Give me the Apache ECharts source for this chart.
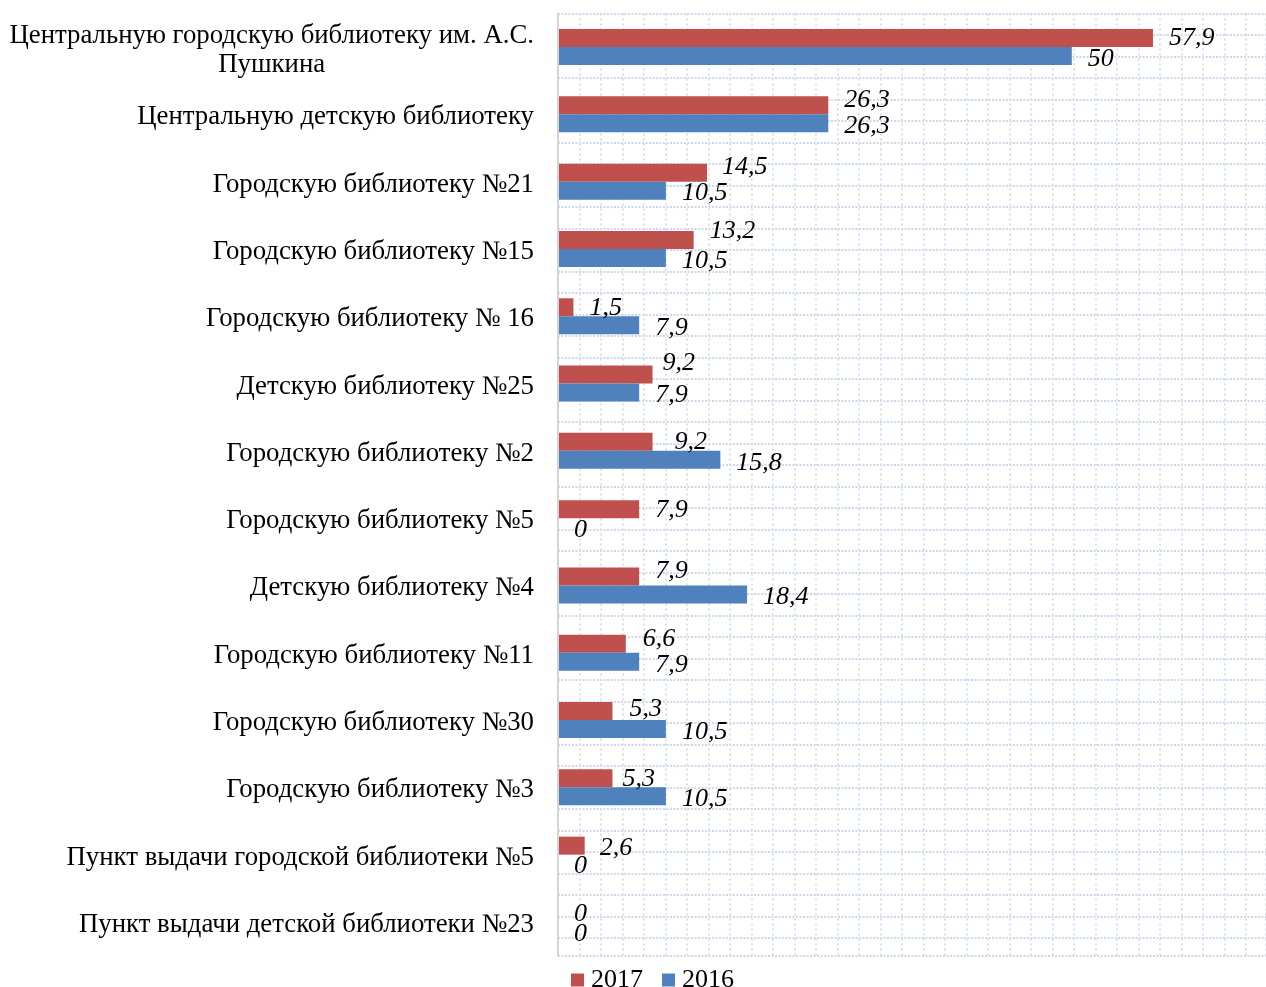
<!DOCTYPE html>
<html>
<head>
<meta charset="utf-8">
<script src="https://cdn.jsdelivr.net/npm/echarts@6/dist/echarts.min.js"></script>
<style>
  html, body { margin: 0; padding: 0; background: #fff; }
  #chart { width: 1266px; height: 987px; }
</style>
</head>
<body>
<div id="chart"></div>
<script>
  // библиотеки (сверху вниз)
  var categories = [
    "Центральную городскую библиотеку им. А.С.\nПушкина",
    "Центральную детскую библиотеку",
    "Городскую библиотеку №21",
    "Городскую библиотеку №15",
    "Городскую библиотеку № 16",
    "Детскую библиотеку №25",
    "Городскую библиотеку №2",
    "Городскую библиотеку №5",
    "Детскую библиотеку №4",
    "Городскую библиотеку №11",
    "Городскую библиотеку №30",
    "Городскую библиотеку №3",
    "Пункт выдачи городской библиотеки №5",
    "Пункт выдачи детской библиотеки №23"
  ];
  var values2017 = [57.9, 26.3, 14.5, 13.2, 1.5, 9.2, 9.2, 7.9, 7.9, 6.6, 5.3, 5.3, 2.6, 0];
  var values2016 = [50, 26.3, 10.5, 10.5, 7.9, 7.9, 15.8, 0, 18.4, 7.9, 10.5, 10.5, 0, 0];
  var seriesNames = ["2017", "2016"];

  // сдвиги подписей 2017, как их передвинули вручную в исходнике
  var shiftX2017 = [0, 0, -1, 0, 0, -6, 6, 0, 0, 1, 1, -6, -1, 0];
  var shiftY2017 = [0, -5, -5, -9, 1, -11, 0, 1, -5, -5, -2, 1, 3, 1];

  var serif = "'Liberation Serif', 'Times New Roman', 'DejaVu Serif', serif";
  var colors = ["#c0504d", "#4f81bd"];

  var chart = echarts.init(document.getElementById("chart"));

  function labelFmt(p) {
    return String(p.value).replace(".", ",");
  }

  var valueLabel = {
    show: true,
    position: "right",
    distance: 16,
    formatter: labelFmt,
    fontFamily: serif,
    fontStyle: "italic",
    fontSize: 26,
    color: "#000"
  };

  var data2017 = values2017.map(function (v, i) {
    return { value: v, label: { offset: [shiftX2017[i], shiftY2017[i]] } };
  });
  var data2016 = values2016.map(function (v) {
    return { value: v, label: { offset: [0, 3] } };
  });

  var option = {
    backgroundColor: "#fff",
    animation: false,
    grid: {
      left: 558,
      right: 0,
      top: 13.4,
      bottom: 31.4,
      containLabel: false
    },
    legend: {
      data: seriesNames,
      left: 566,
      top: 962,
      itemWidth: 13,
      itemHeight: 13,
      itemGap: 19,
      icon: "rect",
      textStyle: { fontFamily: serif, fontSize: 26, color: "#000", padding: [0, 0, 0, 2] }
    },
    xAxis: [
      {
        type: "value",
        min: 0,
        max: 68.9,
        axisLine: { show: false },
        axisTick: { show: false },
        axisLabel: { show: false },
        splitLine: { show: false }
      },
      {
        // фоновая точечная сетка (вертикальные линии)
        type: "value",
        position: "top",
        min: -8.5,
        max: 699.5,
        interval: 21.5,
        axisLine: { show: false },
        axisTick: { show: false },
        axisLabel: { show: false },
        splitLine: { show: true, lineStyle: { color: "#d6e0f1", width: 2, type: [2, 3] } }
      }
    ],
    yAxis: [
      {
        type: "category",
        inverse: true,
        data: categories,
        axisLine: { show: true, lineStyle: { color: "#d4d4d4", width: 2 } },
        axisTick: { show: false },
        splitLine: { show: false },
        axisLabel: {
          margin: 24,
          padding: [6, 0, 0, 0],
          formatter: function (v) {
            return v.split("\n").map(function (s) { return "{a|" + s + "}"; }).join("\n");
          },
          rich: {
            a: { fontFamily: serif, fontSize: 26.8, color: "#000", lineHeight: 29, align: "center" }
          }
        },
        z: 5
      },
      {
        // фоновая точечная сетка (горизонтальные линии)
        type: "value",
        position: "right",
        inverse: true,
        min: -20.2,
        max: 922,
        interval: 21.5,
        axisLine: { show: false },
        axisTick: { show: false },
        axisLabel: { show: false },
        splitLine: { show: true, lineStyle: { color: "#ccd8ee", width: 2, type: [2, 1.5] } }
      }
    ],
    series: [
      {
        name: seriesNames[0],
        type: "bar",
        xAxisIndex: 0,
        yAxisIndex: 0,
        data: data2017,
        barWidth: 18,
        barGap: "0%",
        itemStyle: { color: colors[0] },
        label: valueLabel
      },
      {
        name: seriesNames[1],
        type: "bar",
        xAxisIndex: 0,
        yAxisIndex: 0,
        data: data2016,
        barWidth: 18,
        barGap: "0%",
        itemStyle: { color: colors[1] },
        label: valueLabel
      }
    ]
  };

  chart.setOption(option);
</script>
</body>
</html>
